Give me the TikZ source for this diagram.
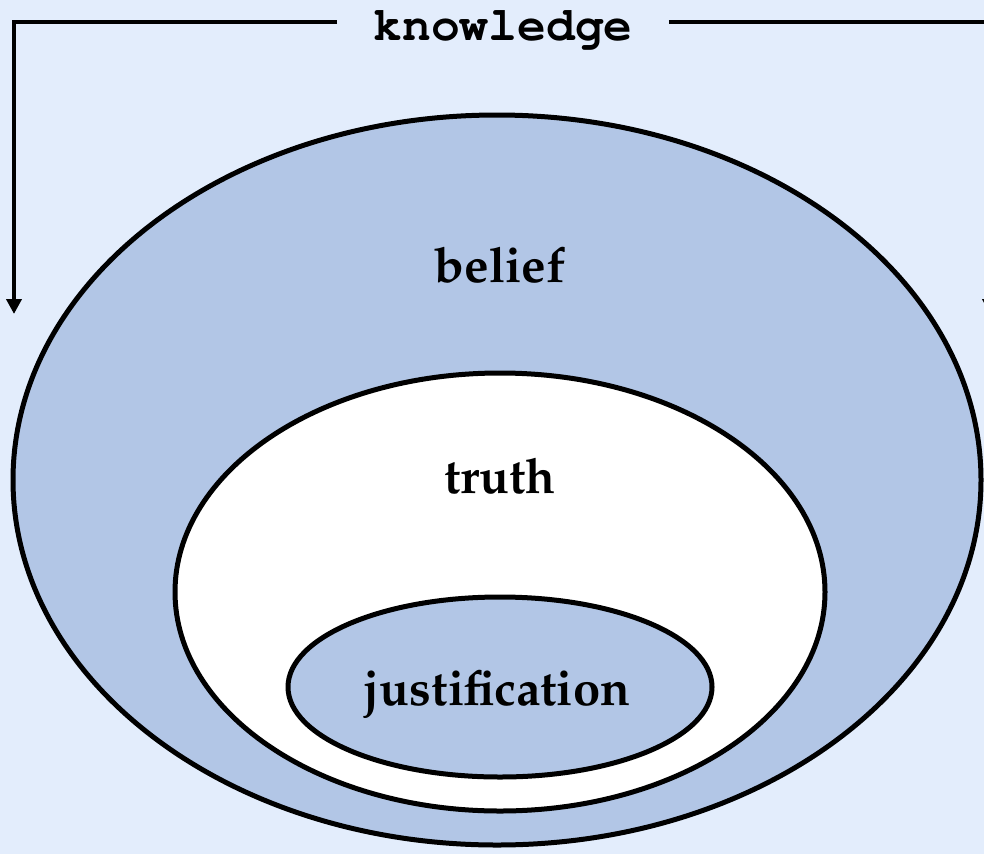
\documentclass[tikz,border=0pt]{standalone}
\usetikzlibrary{arrows.meta}
\definecolor{bgblue}{RGB}{227,237,252}
\definecolor{fillblue}{RGB}{178,198,230}
\newcommand{\palbold}{\fontencoding{OT1}\fontfamily{ppl}\fontseries{b}\selectfont}
\newcommand{\courfont}{\fontencoding{OT1}\fontfamily{pcr}\fontseries{b}\selectfont}
\tikzset{
  ring/.style={draw=black, line width=5pt},
  lbl/.style={anchor=base, inner sep=0pt, font=\palbold\fontsize{49}{52}\selectfont},
  conn/.style={draw=black, line width=4.2pt, -{Triangle[length=15pt,width=15pt]}},
}
\begin{document}
\begin{tikzpicture}[x=1pt,y=-1pt]
  \useasboundingbox (0,0) rectangle (984,854);
  \clip (0,0) rectangle (984,854);
  \fill[bgblue] (0,0) rectangle (984,854);
  % ellipses
  \filldraw[ring, fill=fillblue] (497,480) ellipse [x radius=484pt, y radius=365pt];
  \filldraw[ring, fill=white] (500,592) ellipse [x radius=325pt, y radius=219pt];
  \filldraw[ring, fill=fillblue] (500,687) ellipse [x radius=212pt, y radius=90pt];
  % labels
  \node[lbl] (belief) at (500,282) {belief};
  \node[lbl] (truth) at (500,493) {truth};
  \node[lbl] (just) at (497,705) {justification};
  % knowledge
  \node[anchor=base, inner xsep=36pt, inner ysep=0pt, font=\courfont\fontsize{48}{50}\selectfont] (know) at (503,40) {knowledge};
  \coordinate (lc) at (14,22);
  \coordinate (ltip) at (14,314);
  \coordinate (rc) at (990,22);
  \coordinate (rtip) at (990,314);
  \draw[conn] (know.west |- lc) -- (lc) -- (ltip);
  \draw[conn] (know.east |- rc) -- (rc) -- (rtip);
\end{tikzpicture}
\end{document}
